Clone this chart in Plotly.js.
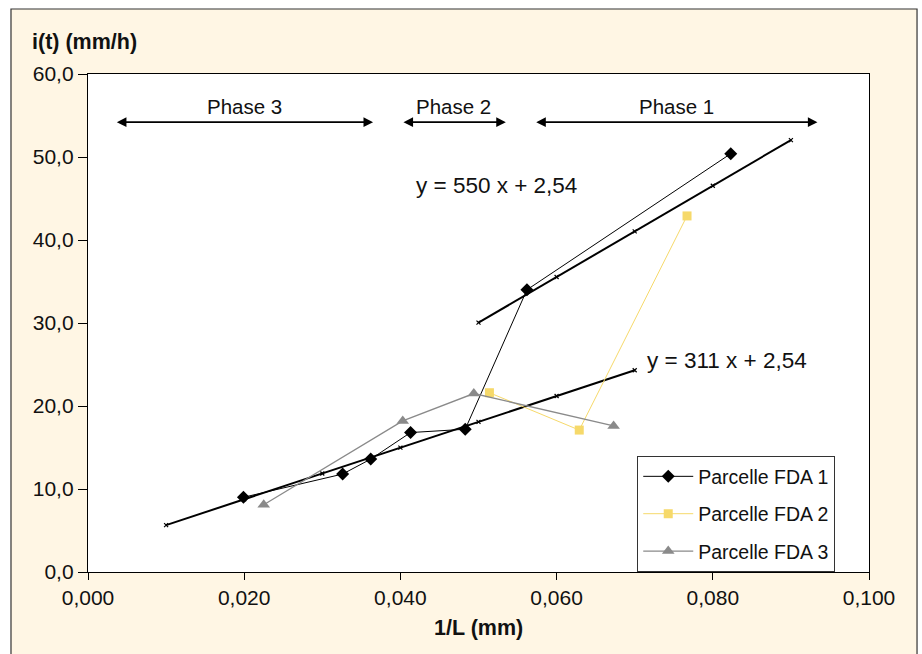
<!DOCTYPE html>
<html>
<head>
<meta charset="utf-8">
<script src="https://cdn.plot.ly/plotly-3.0.1.min.js"></script>
<style>html,body{margin:0;padding:0;background:#fff;}#chart{width:922px;height:654px;}</style>
</head>
<body>
<div id="chart"></div>
<script>
// Parcelle FDA 1
var fda1X = [0.0199, 0.0326, 0.0362, 0.0413, 0.0483, 0.0562, 0.0823];
var fda1Y = [9.0, 11.8, 13.6, 16.8, 17.2, 34.0, 50.4];
// Parcelle FDA 2
var fda2X = [0.0514, 0.0629, 0.0767];
var fda2Y = [21.6, 17.1, 42.9];
// Parcelle FDA 3
var fda3X = [0.0225, 0.0403, 0.0494, 0.0673];
var fda3Y = [8.1, 18.2, 21.5, 17.6];
// Fit line y = 311 x + 2,54
var fitAX = [0.01, 0.02, 0.03, 0.04, 0.05, 0.06, 0.07];
var fitAY = [5.65, 8.76, 11.87, 14.98, 18.09, 21.2, 24.31];
// Fit line y = 550 x + 2,54
var fitBX = [0.05, 0.06, 0.07, 0.08, 0.09];
var fitBY = [30.04, 35.54, 41.04, 46.54, 52.04];
// Phase ranges [start, end] on x
var phaseNames = ["Phase 3", "Phase 2", "Phase 1"];
var phaseStart = [0.0035, 0.0402, 0.0572];
var phaseEnd = [0.0365, 0.0535, 0.0934];
var phaseArrowY = 54.2;
var phaseLabelY = 56.1;
// Equations
var eqTexts = ["y = 550 x + 2,54", "y = 311 x + 2,54"];
var eqX = [0.0418, 0.0713];
var eqY = [46.6, 25.5];

var font = "Liberation Sans, Arial, Helvetica, sans-serif";

var traces = [
  {x: fitAX, y: fitAY, mode: "lines+markers", showlegend: false,
   line: {color: "#000", width: 2},
   marker: {symbol: "x-thin", size: 4, line: {color: "#000", width: 1.2}}},
  {x: fitBX, y: fitBY, mode: "lines+markers", showlegend: false,
   line: {color: "#000", width: 2},
   marker: {symbol: "x-thin", size: 4, line: {color: "#000", width: 1.2}}},
  {x: fda1X, y: fda1Y, mode: "lines+markers", name: "Parcelle FDA 1", legendgroup: "g1",
   line: {color: "#000", width: 1},
   marker: {symbol: "diamond", size: 10, color: "#000"}},
  {x: fda2X, y: fda2Y, mode: "lines+markers", name: "Parcelle FDA 2", legendgroup: "g2",
   line: {color: "#f6d96a", width: 1},
   marker: {symbol: "square", size: 9, color: "#f6d96a"}},
  {x: fda3X, y: fda3Y, mode: "lines+markers", name: "Parcelle FDA 3", legendgroup: "g3",
   line: {color: "#8a8a8a", width: 1.3},
   marker: {symbol: "triangle-up", size: 11, color: "#8a8a8a"}}
];

var annotations = [];
for (var i = 0; i < phaseNames.length; i++) {
  annotations.push({x: phaseEnd[i], y: phaseArrowY, ax: phaseStart[i], ay: phaseArrowY,
    xref: "x", yref: "y", axref: "x", ayref: "y", text: "", showarrow: true,
    arrowhead: 2, startarrowhead: 2, arrowside: "end+start", arrowsize: 1.2, startarrowsize: 1.2,
    arrowwidth: 1.6, arrowcolor: "#000"});
  annotations.push({x: (phaseStart[i] + phaseEnd[i]) / 2, y: phaseLabelY, xref: "x", yref: "y",
    text: phaseNames[i], showarrow: false, font: {size: 20.5, color: "#111", family: font}});
}
for (var j = 0; j < eqTexts.length; j++) {
  annotations.push({x: eqX[j], y: eqY[j], xref: "x", yref: "y", xanchor: "left",
    text: eqTexts[j], showarrow: false, font: {size: 22.5, color: "#111", family: font}});
}
annotations.push({x: -0.0745, y: 1.065, xref: "paper", yref: "paper", xanchor: "left", yanchor: "middle",
  text: "<b>i(t) (mm/h)</b>", showarrow: false, font: {size: 21.5, color: "#111", family: font}});
annotations.push({x: 0.5, y: -0.113, xref: "paper", yref: "paper", xanchor: "center", yanchor: "middle",
  text: "<b>1/L (mm)</b>", showarrow: false, font: {size: 21.5, color: "#111", family: font}});

var layout = {
  width: 922, height: 654,
  margin: {l: 88, r: 53, t: 74, b: 82},
  paper_bgcolor: "#ffffff", plot_bgcolor: "#ffffff",
  separators: ", ",
  font: {family: font, size: 20, color: "#111"},
  showlegend: true,
  legend: {x: 0.703, y: 0.233, xanchor: "left", yanchor: "top", bgcolor: "#fff",
    bordercolor: "#333", borderwidth: 1.2, font: {size: 19.5, family: font, color: "#111"},
    itemwidth: 50, tracegroupgap: 9},
  xaxis: {range: [0, 0.1], dtick: 0.02, tick0: 0, tickformat: ".3f", showgrid: false, zeroline: false,
    showline: true, linecolor: "#000", linewidth: 1.2, mirror: true, ticks: "outside", ticklen: 7,
    tickcolor: "#000", tickfont: {size: 21, family: font, color: "#111"}},
  yaxis: {range: [0, 60], dtick: 10, tickformat: ".1f", showgrid: false, zeroline: false,
    showline: true, linecolor: "#000", linewidth: 1.2, mirror: true, ticks: "outside", ticklen: 9,
    tickcolor: "#000", tickfont: {size: 21, family: font, color: "#111"}},
  shapes: [
    {type: "rect", xref: "paper", yref: "paper", x0: -0.0986, x1: 1.0615, y0: -0.2, y1: 1.1305,
     fillcolor: "#fff6e4", line: {color: "#333", width: 1.2}, layer: "below"},
    {type: "rect", xref: "paper", yref: "paper", x0: 0, x1: 1, y0: 0, y1: 1,
     fillcolor: "#ffffff", line: {width: 0}, layer: "below"}
  ],
  annotations: annotations
};

Plotly.newPlot("chart", traces, layout, {displayModeBar: false, staticPlot: true});
</script>
</body>
</html>
